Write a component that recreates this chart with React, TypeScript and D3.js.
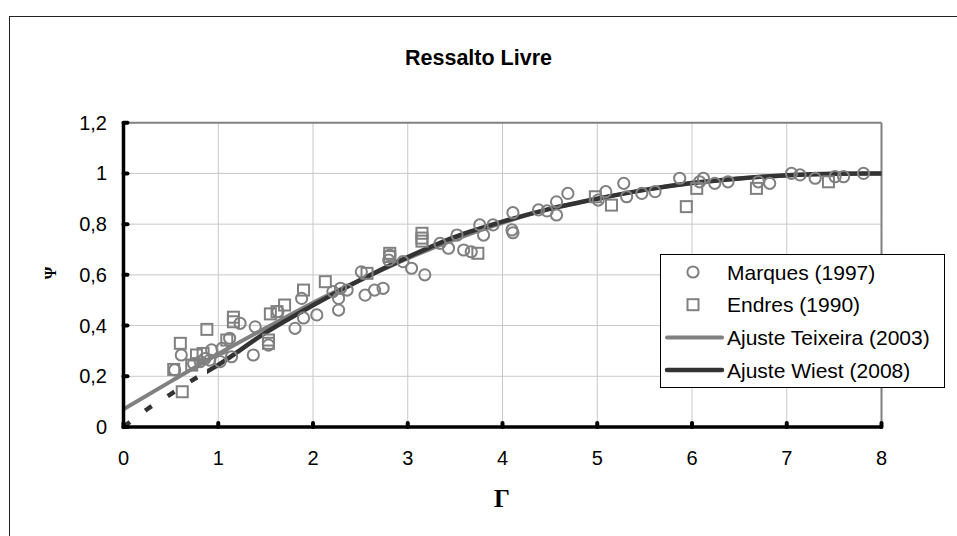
import React from "react";
import * as d3 from "d3";

const title = "Ressalto Livre";
const xTicks = [0, 1, 2, 3, 4, 5, 6, 7, 8];
const yTicks = [0, 0.2, 0.4, 0.6, 0.8, 1.0, 1.2];
const yTickLabels = ["0", "0,2", "0,4", "0,6", "0,8", "1", "1,2"];

const marques: [number, number][] = [
  [0.54, 0.225], [0.61, 0.284], [0.74, 0.25], [0.81, 0.258], [0.86, 0.27], [0.91, 0.264],
  [0.93, 0.304], [1.02, 0.258], [1.04, 0.31], [1.12, 0.35], [1.14, 0.277], [1.23, 0.409],
  [1.39, 0.395], [1.37, 0.284], [1.53, 0.323], [1.63, 0.455], [1.81, 0.389], [1.88, 0.507],
  [1.9, 0.43], [2.04, 0.442], [2.21, 0.534], [2.29, 0.547], [2.36, 0.54], [2.27, 0.461],
  [2.27, 0.507], [2.51, 0.612], [2.55, 0.52], [2.65, 0.54], [2.74, 0.547], [2.8, 0.658],
  [2.81, 0.678], [2.95, 0.652], [3.04, 0.626], [3.18, 0.6], [3.34, 0.724], [3.43, 0.705],
  [3.52, 0.757], [3.59, 0.698], [3.67, 0.691], [3.76, 0.797], [3.8, 0.757], [3.9, 0.797],
  [4.11, 0.845], [4.1, 0.777], [4.11, 0.766], [4.38, 0.856], [4.47, 0.852], [4.57, 0.888],
  [4.57, 0.836], [4.69, 0.921], [5.01, 0.895], [5.09, 0.928], [5.28, 0.961], [5.31, 0.908],
  [5.47, 0.921], [5.61, 0.928], [5.87, 0.981], [6.08, 0.967], [6.12, 0.981], [6.24, 0.961],
  [6.38, 0.967], [6.7, 0.967], [6.82, 0.961], [7.05, 1.0], [7.14, 0.994], [7.3, 0.981],
  [7.51, 0.987], [7.6, 0.987], [7.81, 1.0],
];

const endres: [number, number][] = [
  [0.53, 0.227], [0.6, 0.33], [0.62, 0.139], [0.72, 0.244], [0.77, 0.284], [0.84, 0.29],
  [0.88, 0.385], [1.09, 0.343], [1.16, 0.433], [1.16, 0.415], [1.53, 0.343], [1.53, 0.33],
  [1.55, 0.446], [1.62, 0.455], [1.7, 0.481], [1.9, 0.54], [2.13, 0.573], [2.57, 0.606],
  [2.81, 0.685], [2.81, 0.672], [3.15, 0.764], [3.15, 0.745], [3.15, 0.733], [3.74, 0.685],
  [4.98, 0.908], [5.15, 0.875], [5.94, 0.869], [6.05, 0.941], [6.68, 0.941], [7.44, 0.967],
];

const teixeira: [number, number][] = [
  [0, 0.07], [0.5, 0.18], [1.0, 0.288], [1.5, 0.39], [2.0, 0.49], [2.5, 0.58], [3.0, 0.665],
  [3.5, 0.74], [4.0, 0.805], [4.5, 0.86], [5.0, 0.9], [5.5, 0.935], [6.0, 0.962], [6.5, 0.98],
  [7.0, 0.992], [7.5, 0.998], [8.0, 1.0],
];

const wiest: [number, number][] = [
  [0, 0], [0.25, 0.07], [0.5, 0.13], [0.75, 0.19], [1.0, 0.245], [1.5, 0.372], [2.0, 0.48],
  [2.5, 0.58], [3.0, 0.67], [3.5, 0.75], [4.0, 0.81], [4.5, 0.86], [5.0, 0.9], [5.5, 0.935],
  [6.0, 0.962], [6.5, 0.98], [7.0, 0.993], [7.5, 0.999], [8.0, 1.0],
];
const wiestSolidFrom = 0.88;

const legendItems = ["Marques (1997)", "Endres (1990)", "Ajuste Teixeira (2003)", "Ajuste Wiest (2008)"];

const GRAY = "#808080";
const DARK = "#333333";
const FONT = "'Liberation Sans', Arial, sans-serif";
const SERIF = "'Liberation Serif', 'Times New Roman', serif";

export default function App() {
  const W = 957, H = 536;
  const x = d3.scaleLinear().domain([0, 8]).range([123.5, 881.5]);
  const y = d3.scaleLinear().domain([0, 1.2]).range([427, 122.7]);
  const line = d3.line<[number, number]>().x(d => x(d[0])).y(d => y(d[1])).curve(d3.curveMonotoneX);
  const sq = 11;
  const r = 5.6;

  return (
    <svg width={W} height={H} style={{ position: "absolute", left: 0, top: 0, background: "#fff" }}>
      <defs>
        <clipPath id="dashClip"><rect x={0} y={0} width={x(wiestSolidFrom)} height={H} /></clipPath>
        <clipPath id="solidClip"><rect x={x(wiestSolidFrom)} y={0} width={W} height={H} /></clipPath>
      </defs>
      <rect x={9.5} y={16.5} width={1000} height={1000} fill="#fff" stroke="#222" strokeWidth={1} />
      <text x={478.5} y={65} textAnchor="middle" fontFamily={FONT} fontWeight="bold" fontSize={21.5}>{title}</text>

      {/* gridlines */}
      {xTicks.slice(1, -1).map(t => (
        <line key={"gx" + t} x1={x(t)} x2={x(t)} y1={y(1.2)} y2={y(0)} stroke="#c8c8c8" strokeWidth={1} />
      ))}
      {yTicks.slice(1, -1).map(t => (
        <line key={"gy" + t} x1={x(0)} x2={x(8)} y1={y(t)} y2={y(t)} stroke="#c8c8c8" strokeWidth={1} />
      ))}
      <line x1={x(0)} x2={x(8)} y1={y(1.2)} y2={y(1.2)} stroke={GRAY} strokeWidth={2} />
      <line x1={x(8)} x2={x(8)} y1={y(1.2)} y2={y(0)} stroke={GRAY} strokeWidth={2} />

      {/* curves */}
      <path d={line(teixeira) || ""} fill="none" stroke={GRAY} strokeWidth={4} />
      <path d={line(wiest) || ""} fill="none" stroke={DARK} strokeWidth={4.5} strokeDasharray="8,19" clipPath="url(#dashClip)" />
      <path d={line(wiest) || ""} fill="none" stroke={DARK} strokeWidth={4.5} clipPath="url(#solidClip)" />

      {/* markers */}
      {marques.map((d, i) => (
        <circle key={"m" + i} cx={x(d[0])} cy={y(d[1])} r={r} fill="none" stroke={GRAY} strokeWidth={2} />
      ))}
      {endres.map((d, i) => (
        <rect key={"e" + i} x={x(d[0]) - sq / 2} y={y(d[1]) - sq / 2} width={sq} height={sq} fill="none" stroke={GRAY} strokeWidth={2} />
      ))}

      {/* axes */}
      <line x1={x(0)} x2={x(0)} y1={y(1.2) - 1} y2={y(0) + 1.5} stroke="#000" strokeWidth={3.5} />
      <line x1={x(0) - 1.5} x2={x(8) + 1} y1={y(0)} y2={y(0)} stroke="#000" strokeWidth={3.5} />
      {yTicks.map(t => (
        <line key={"ty" + t} x1={x(0)} x2={x(0) + 4} y1={y(t)} y2={y(t)} stroke="#000" strokeWidth={4} strokeLinecap="round" />
      ))}
      {xTicks.map(t => (
        <line key={"tx" + t} x1={x(t)} x2={x(t)} y1={y(0)} y2={y(0) - 4} stroke="#000" strokeWidth={4} strokeLinecap="round" />
      ))}
      {yTicks.map((t, i) => (
        <text key={"ly" + t} x={107} y={y(t)} dy="0.35em" textAnchor="end" fontFamily={FONT} fontSize={20}>{yTickLabels[i]}</text>
      ))}
      {xTicks.map(t => (
        <text key={"lx" + t} x={x(t)} y={465} textAnchor="middle" fontFamily={FONT} fontSize={20}>{String(t)}</text>
      ))}

      <text x={502} y={507} textAnchor="middle" fontFamily={SERIF} fontWeight="bold" fontSize={25}>Γ</text>
      <text transform="translate(56,273) rotate(-90)" textAnchor="middle" fontFamily={SERIF} fontWeight="bold" fontSize={16}>Ψ</text>

      {/* legend */}
      <rect x={660.5} y={254.5} width={284} height={133} fill="#fff" stroke="#000" strokeWidth={1} />
      {legendItems.map((label, i) => {
        const cy = 272 + i * 32.7;
        return (
          <g key={label}>
            {i === 0 && <circle cx={693} cy={cy} r={r} fill="none" stroke={GRAY} strokeWidth={2} />}
            {i === 1 && <rect x={693 - sq / 2} y={cy - sq / 2} width={sq} height={sq} fill="none" stroke={GRAY} strokeWidth={2} />}
            {i === 2 && <line x1={667} x2={722} y1={cy} y2={cy} stroke={GRAY} strokeWidth={4} strokeLinecap="round" />}
            {i === 3 && <line x1={667} x2={722} y1={cy} y2={cy} stroke={DARK} strokeWidth={4.5} strokeLinecap="round" />}
            <text x={727} y={cy} dy="0.36em" fontFamily={FONT} fontSize={21}>{label}</text>
          </g>
        );
      })}
    </svg>
  );
}
